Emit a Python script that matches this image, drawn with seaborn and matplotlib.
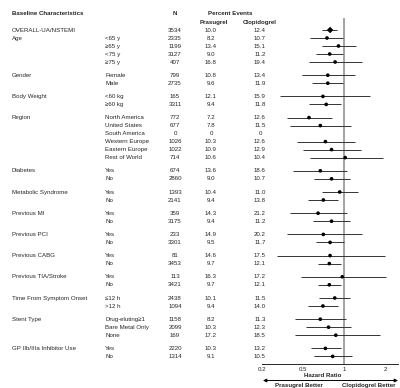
import numpy as np
import pandas as pd
import matplotlib.pyplot as plt
import matplotlib.transforms as mtransforms
import seaborn as sns

# groups and subgroups (first entry is the overall row)
categories = ["OVERALL-UA/NSTEMI", "Age", "Gender", "Body Weight", "Region", "Diabetes",
              "Metabolic Syndrome", "Previous MI", "Previous PCI", "Previous CABG",
              "Previous TIA/Stroke", "Time From Symptom Onset", "Stent Type",
              "GP IIb/IIIa Inhibitor Use"]
subgroups = [[""], ["<65 y", "\u226565 y", "<75 y", "\u226575 y"], ["Female", "Male"],
             ["<60 kg", "\u226560 kg"],
             ["North America", "United States", "South America", "Western Europe",
              "Eastern Europe", "Rest of World"],
             ["Yes", "No"], ["Yes", "No"], ["Yes", "No"], ["Yes", "No"], ["Yes", "No"],
             ["Yes", "No"], ["\u226412 h", ">12 h"],
             ["Drug-eluting\u22651", "Bare Metal Only", "None"], ["Yes", "No"]]

n_pts = [3534, 2335, 1199, 3127, 407, 799, 2735, 165, 3311, 772, 677, 0, 1026, 1022, 714,
         674, 2860, 1393, 2141, 359, 3175, 233, 3301, 81, 3453, 113, 3421, 2438, 1094,
         1158, 2099, 169, 2220, 1314]
prasugrel = [10.0, 8.2, 13.4, 9.0, 16.8, 10.8, 9.6, 12.1, 9.4, 7.2, 7.8, 0, 10.3, 10.9, 10.6,
             13.6, 9.0, 10.4, 9.4, 14.3, 9.4, 14.9, 9.5, 14.6, 9.7, 16.3, 9.7, 10.1, 9.4,
             8.2, 10.3, 17.2, 10.3, 9.1]
clopidogrel = [12.4, 10.7, 15.1, 11.2, 19.4, 13.4, 11.9, 15.9, 11.8, 12.6, 11.5, 0, 12.6,
               12.9, 10.4, 18.6, 10.7, 11.0, 13.8, 21.2, 11.2, 20.2, 11.7, 17.5, 12.1, 17.2,
               12.1, 11.5, 14.0, 11.3, 12.3, 18.5, 13.2, 10.5]
hr = [0.79, 0.75, 0.91, 0.785, 0.86, 0.76, 0.76, 0.70, 0.74, 0.553, 0.67, np.nan, 0.73, 0.81,
      1.02, 0.67, 0.81, 0.93, 0.705, 0.645, 0.81, 0.705, 0.79, 0.79, 0.78, 0.97, 0.78,
      0.855, 0.70, 0.67, 0.77, 0.87, 0.73, 0.825]
ci_low = [0.686, 0.563, 0.686, 0.62, 0.553, 0.486, 0.585, 0.296, 0.553, 0.35, 0.374, np.nan,
          0.44, 0.50, 0.56, 0.40, 0.60, 0.69, 0.546, 0.374, 0.595, 0.347, 0.625, 0.28, 0.64,
          0.475, 0.64, 0.66, 0.544, 0.415, 0.526, 0.415, 0.57, 0.60]
ci_high = [0.893, 0.99, 1.216, 0.99, 1.36, 1.21, 0.99, 1.56, 0.945, 0.81, 1.13, np.nan, 1.21,
           1.34, 1.94, 1.06, 1.106, 1.275, 0.90, 1.05, 1.106, 1.36, 1.0, 2.0, 0.95, 2.03,
           0.95, 1.11, 0.91, 1.04, 1.13, 1.83, 0.95, 1.15]

# row positions: one unit per row, extra gap between groups
ypos, cat_rows, sub_rows = [], [], []
row = 0
for gi, subs in enumerate(subgroups):
    gap = 0.65 * max(gi - 1, 0)
    for si, s in enumerate(subs):
        ypos.append(row + gap)
        sub_rows.append(s)
        cat_rows.append(categories[gi] if si == 0 else "")
        row += 1

df = pd.DataFrame({"y": ypos, "cat": cat_rows, "sub": sub_rows, "n": n_pts,
                   "pras": prasugrel, "clop": clopidogrel,
                   "hr": hr, "lo": ci_low, "hi": ci_high})

sns.set_style("white")
plt.rcParams['font.family'] = ['Liberation Sans Narrow', 'Liberation Sans', 'DejaVu Sans']
fs = 4.4

fig = plt.figure(figsize=(4, 3.88), dpi=100)
ax = fig.add_axes([262 / 400, 1 - 364 / 388, 136 / 400, (364 - 18) / 388])

L25, L2 = np.log(2.5), np.log(2)


def fwd(x):
    lx = np.log(np.clip(x, 1e-6, None))
    return np.where(lx < np.log(0.5), (lx - np.log(0.2)) / L25,
                    np.where(lx < 0, 1 + (lx - np.log(0.5)) / L2, 2 + lx / L2))


def inv(t):
    t = np.asarray(t, dtype=float)
    return np.where(t < 1, 0.2 * 2.5 ** t, np.where(t < 2, 0.5 * 2 ** (t - 1), 2 ** (t - 2)))


ax.set_xscale('function', functions=(fwd, inv))
ax.set_xlim(0.2, 2.49)
ax.set_ylim(41.75, -1.5)

ax.axvline(1, color='#8a8a8a', lw=1.1, zorder=1)
ok = df.dropna(subset=["hr"])
ax.hlines(ok["y"], ok["lo"], ok["hi"], color='#333333', lw=0.7, zorder=2)
sns.scatterplot(data=ok.iloc[1:], x="hr", y="y", color='black', s=7, marker='o',
                edgecolor='none', ax=ax, zorder=3)
sns.scatterplot(data=ok.iloc[:1], x="hr", y="y", color='black', s=11, marker='D',
                edgecolor='none', ax=ax, zorder=3)

ax.set_xticks([0.2, 0.5, 1, 2])
ax.set_xticklabels(['0.2', '0.5', '1', '2'])
ax.set_yticks([])
ax.minorticks_off()
ax.tick_params(axis='x', length=1.5, width=0.6, pad=0.5, labelsize=fs, direction='out')
for sp in ['top', 'left', 'right']:
    ax.spines[sp].set_visible(False)
ax.spines['bottom'].set_linewidth(0.7)
ax.set_xlabel('')
ax.set_ylabel('')

# text columns
tr = mtransforms.blended_transform_factory(fig.transFigure, ax.transData)
for _, r in df.iterrows():
    ax.text(12 / 400, r["y"], r["cat"], transform=tr, fontsize=fs, va='center', ha='left')
    ax.text(105 / 400, r["y"], r["sub"], transform=tr, fontsize=fs, va='center', ha='left')
    ax.text(175 / 400, r["y"], f"{r['n']}", transform=tr, fontsize=fs, va='center', ha='center')
    pv = f"{r['pras']:.1f}" if r['pras'] else "0"
    cv = f"{r['clop']:.1f}" if r['clop'] else "0"
    ax.text(211 / 400, r["y"], pv, transform=tr, fontsize=fs, va='center', ha='center')
    ax.text(260 / 400, r["y"], cv, transform=tr, fontsize=fs, va='center', ha='center')

hy1, hy2 = (13 - 30) / 8, (22 - 30) / 8
ax.text(12 / 400, hy1, "Baseline Characteristics", transform=tr, fontsize=fs,
        fontweight='bold', va='center', ha='left')
ax.text(175 / 400, hy1, "N", transform=tr, fontsize=fs, fontweight='bold', va='center', ha='center')
ax.text(230 / 400, hy1, "Percent Events", transform=tr, fontsize=fs, fontweight='bold',
        va='center', ha='center')
ax.text(214 / 400, hy2, "Prasugrel", transform=tr, fontsize=fs, fontweight='bold',
        va='center', ha='center')
ax.text(260 / 400, hy2, "Clopidogrel", transform=tr, fontsize=fs, fontweight='bold',
        va='center', ha='center')

fig.text(323 / 400, 1 - 375.5 / 388, "Hazard Ratio", fontsize=fs, fontweight='bold',
         va='center', ha='center')
ax.annotate('', xy=(398 / 400, 1 - 380.5 / 388), xytext=(263 / 400, 1 - 380.5 / 388),
            xycoords='figure fraction', textcoords='figure fraction',
            arrowprops=dict(arrowstyle='<|-|>', color='black', lw=0.7, mutation_scale=5,
                            shrinkA=0, shrinkB=0))
fig.text(275 / 400, 1 - 385.5 / 388, "Prasugrel Better", fontsize=fs, fontweight='bold',
         va='center', ha='left')
fig.text(395 / 400, 1 - 385.5 / 388, "Clopidogrel Better", fontsize=fs, fontweight='bold',
         va='center', ha='right')

fig.savefig('out.png', dpi=100)
